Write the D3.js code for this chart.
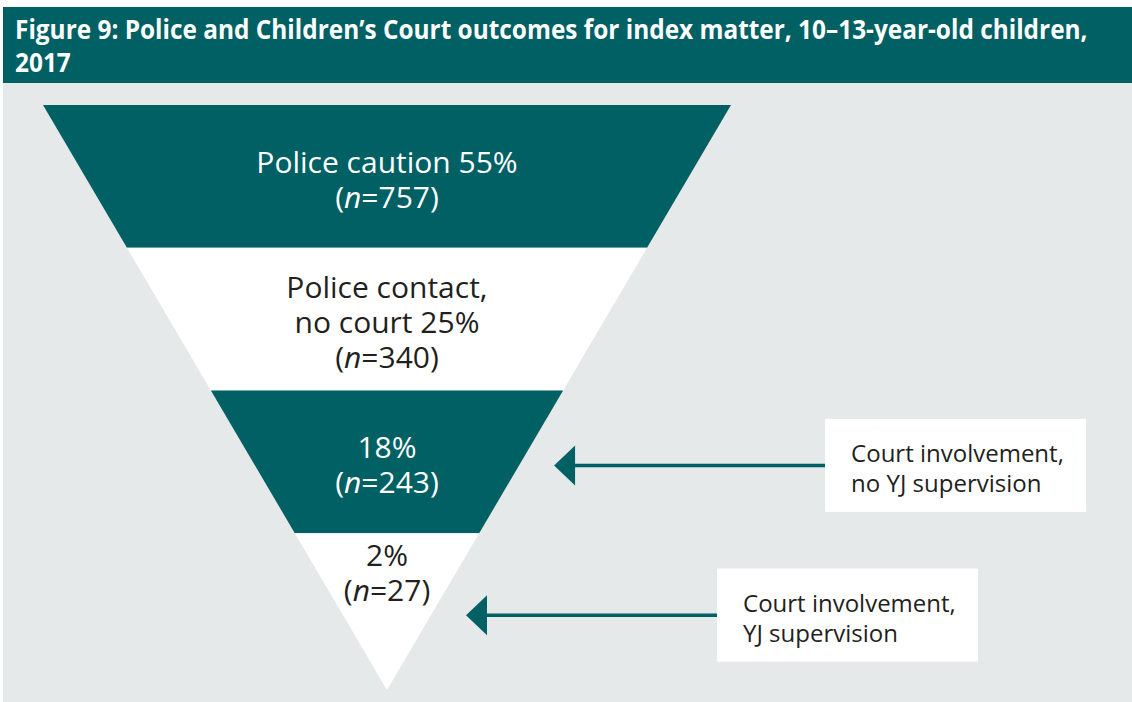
<!DOCTYPE html>
<html>
<head>
<meta charset="utf-8">
<script src="https://cdn.jsdelivr.net/npm/d3@7"></script>
<style>
  body { margin: 0; background: #ffffff; }
  svg { display: block; }
</style>
</head>
<body>
<svg id="chart" width="1132" height="702"></svg>
<script>
// ---- Data ----
const titleLines = [
  "Figure 9: Police and Children\u2019s Court outcomes for index matter, 10\u201313-year-old children,",
  "2017"
];
const stages = ["caution", "contact", "court", "supervision"];
const stageNames = [["Police caution"], ["Police contact,", "no court"], [], []];
const stagePercents = [55, 25, 18, 2];
const stageCounts = [757, 340, 243, 27];
const calloutStages = ["court", "supervision"];
const calloutLines = [
  ["Court involvement,", "no YJ supervision"],
  ["Court involvement,", "YJ supervision"]
];

// ---- Styles ----
const TEAL = "#006063";
const PANEL = "#e5e9ea";
const INK = "#231f20";
const FONT = "'Open Sans', 'Noto Sans', sans-serif";

const W = 1132, H = 702;
const svg = d3.select("#chart");

// Header bar and panel
svg.append("rect").attr("x", 3).attr("y", 7).attr("width", W - 3).attr("height", 76).attr("fill", TEAL);
svg.append("rect").attr("x", 3).attr("y", 83).attr("width", W - 3).attr("height", H - 83).attr("fill", PANEL);

// Title, condensed horizontally to the header's text width
const titleG = svg.append("g");
const titleTexts = titleG.selectAll("text").data(titleLines).join("text")
  .attr("x", 0)
  .attr("y", (d, i) => 39.5 + i * 33)
  .attr("fill", "#ffffff")
  .attr("font-family", FONT)
  .attr("font-weight", 700)
  .attr("font-size", 27.5)
  .text(d => d);
const naturalW = titleTexts.nodes()[0].getComputedTextLength();
const kTitle = 1073 / naturalW;
titleG.attr("transform", `translate(15,0) scale(${kTitle},1)`);

// ---- Funnel geometry ----
const funnelTop = 105, funnelApex = 690, cx = 387, topHalf = 344;
const y = d3.scaleBand().domain(stages).range([funnelTop, 676]).paddingInner(0).paddingOuter(0);
const halfW = d3.scaleLinear().domain([funnelTop, funnelApex]).range([topHalf, 0]);

const bands = stages.map((s, i) => {
  const y0 = y(s);
  const y1 = i === stages.length - 1 ? funnelApex : y0 + y.bandwidth();
  return { key: s, i, y0, y1, pct: stagePercents[i], n: stageCounts[i], names: stageNames[i] };
});

const bandG = svg.append("g");
bandG.selectAll("path").data(bands).join("path")
  .attr("d", b => {
    const pts = [
      [cx - halfW(b.y0), b.y0], [cx + halfW(b.y0), b.y0],
      [cx + halfW(b.y1), b.y1], [cx - halfW(b.y1), b.y1]
    ];
    return d3.line()(pts) + "Z";
  })
  .attr("fill", b => b.i % 2 === 0 ? TEAL : "#ffffff");

// Stage labels
const lineGap = 35;
bands.forEach(b => {
  const lines = b.names.slice();
  if (lines.length) lines[lines.length - 1] += " " + b.pct + "%";
  else lines.push(b.pct + "%");
  const all = lines.map(t => ({ t, count: false })).concat([{ t: b.n, count: true }]);
  const isTip = b.i === stages.length - 1;
  const firstBase = isTip
    ? b.y0 + 33
    : (b.y0 + b.y1) / 2 - (all.length - 1) * lineGap / 2 + 14;
  const col = b.i % 2 === 0 ? "#ffffff" : INK;
  all.forEach((ln, j) => {
    const t = svg.append("text")
      .attr("x", cx)
      .attr("y", firstBase + j * lineGap)
      .attr("text-anchor", "middle")
      .attr("font-family", FONT)
      .attr("font-size", 30)
      .attr("fill", col);
    if (ln.count) {
      t.append("tspan").text("(");
      t.append("tspan").attr("font-style", "italic").text("n");
      t.append("tspan").text("=" + d3.format("d")(ln.t) + ")");
    } else {
      t.text(ln.t);
    }
  });
});

// ---- Callouts ----
const arrowLens = [271, 251];
const boxW = 261, boxH = 93;
calloutStages.forEach((s, k) => {
  const b = bands[stages.indexOf(s)];
  const ay = (b.y0 + b.y1) / 2 + 3.5;
  const tipX = cx + halfW(ay) + 35;
  const boxX = tipX + arrowLens[k];
  const boxY = ay - boxH / 2;
  const g = svg.append("g");
  g.append("line")
    .attr("x1", tipX + 18).attr("x2", boxX)
    .attr("y1", ay).attr("y2", ay)
    .attr("stroke", TEAL).attr("stroke-width", 3.5);
  g.append("path")
    .attr("d", d3.line()([[tipX, ay], [tipX + 21, ay - 20], [tipX + 21, ay + 20]]) + "Z")
    .attr("fill", TEAL);
  g.append("rect")
    .attr("x", boxX).attr("y", boxY)
    .attr("width", boxW).attr("height", boxH)
    .attr("fill", "#ffffff");
  g.selectAll("text.c").data(calloutLines[k]).join("text")
    .attr("class", "c")
    .attr("x", boxX + 26)
    .attr("y", (d, i) => boxY + 43 + i * 30)
    .attr("font-family", FONT)
    .attr("font-size", 24)
    .attr("fill", INK)
    .text(d => d);
});
</script>
</body>
</html>
